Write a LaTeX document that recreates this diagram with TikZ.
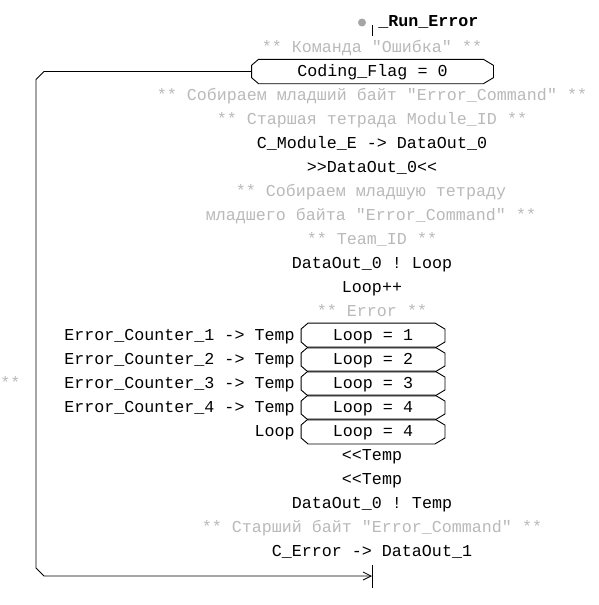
\documentclass[tikz,border=0pt]{standalone}
\usepackage{fontspec}
\setmonofont{Liberation Mono}
\usetikzlibrary{arrows.meta}
\definecolor{cmtgray}{RGB}{185,185,185}
\definecolor{dotgray}{RGB}{165,165,165}
\newcommand\octo[1]{%
  \draw ([xshift=7pt]#1.north west) -- ([xshift=-10pt]#1.north east)
    -- ([yshift=-6pt]#1.north east) -- ([yshift=6pt]#1.south east)
    -- ([xshift=-10pt]#1.south east) -- ([xshift=7pt]#1.south west)
    -- ([yshift=6pt]#1.south west) -- ([yshift=-6pt]#1.north west) -- cycle;}
\begin{document}
\begin{tikzpicture}[x=1pt,y=-1pt,line width=0.9pt,
  every node/.style={font=\ttfamily\fontsize{16.67}{20}\selectfont, inner sep=0pt,
    text height=9.5pt, text depth=0.5pt},
  cmd/.style={text=black},
  cmt/.style={text=cmtgray},
  loopbox/.style={minimum width=143pt, minimum height=24pt},
  flagbox/.style={minimum width=241pt, minimum height=23.5pt},
  lefttxt/.style={anchor=east},
  tip/.style={-{Straight Barb[length=8pt,width=8pt,line width=0.8pt]}}]
\useasboundingbox (0,0) rectangle (599,605);

% start marker
\node[circle, fill=dotgray, minimum size=8pt, text height=0pt, text depth=0pt] (dot) at (362,22.5) {};
\coordinate (t1) at (372.5,25);
\coordinate (t2) at (372.5,36);
\draw[line width=0.8pt] (t1) -- (t2);
\node[anchor=west, font=\ttfamily\bfseries\fontsize{16.67}{20}\selectfont] (run) at (378,22.5) {\_Run\_Error};

\node[cmt] (c0) at (372,47.5) {** Команда "Ошибка" **};
\node[flagbox] (flag) at (372.5,71.5) {Coding\_Flag = 0};
\octo{flag}

\node[cmt] (c1) at (372,95.5) {** Собираем младший байт "Error\_Command" **};
\node[cmt] (c2) at (372,119.5) {** Старшая тетрада Module\_ID **};
\node[cmd] (s1) at (372,143.5) {C\_Module\_E -> DataOut\_0};
\node[cmd] (s2) at (372,167.5) {>>DataOut\_0<<};
\node[cmt] (c3) at (371,191.5) {** Собираем младшую тетраду};
\node[cmt] (c4) at (371,215.5) {младшего байта "Error\_Command" **};
\node[cmt] (c5) at (372,239.5) {** Team\_ID **};
\node[cmd] (s3) at (372,263.5) {DataOut\_0 ! Loop};
\node[cmd] (s4) at (372,287.5) {Loop++};
\node[cmt] (c6) at (372,311.5) {** Error **};

\node[loopbox] (l1) at (373,335.5) {Loop = 1};
\node[loopbox] (l2) at (373,359.5) {Loop = 2};
\node[loopbox] (l3) at (373,383.5) {Loop = 3};
\node[loopbox] (l4) at (373,407.5) {Loop = 4};
\node[loopbox] (l5) at (373,431.5) {Loop = 4};
\octo{l1}\octo{l2}\octo{l3}\octo{l4}\octo{l5}

\node[lefttxt] (e1) at (295,335.5) {Error\_Counter\_1 -> Temp};
\node[lefttxt] (e2) at (295,359.5) {Error\_Counter\_2 -> Temp};
\node[lefttxt] (e3) at (295,383.5) {Error\_Counter\_3 -> Temp};
\node[lefttxt] (e4) at (295,407.5) {Error\_Counter\_4 -> Temp};
\node[lefttxt] (e5) at (295,431.5) {Loop};
\node[cmt, anchor=west] (cl) at (0,383.5) {**};

\node[cmd] (s5) at (372,455.5) {<<Temp};
\node[cmd] (s6) at (372,479.5) {<<Temp};
\node[cmd] (s7) at (372,503.5) {DataOut\_0 ! Temp};
\node[cmt] (c7) at (372,527.5) {** Старший байт "Error\_Command" **};
\node[cmd] (s8) at (372,551.5) {C\_Error -> DataOut\_1};

% loop-back connector
\coordinate (endp) at (372,576);
\coordinate (e_t1) at (372.5,565);
\coordinate (e_t2) at (372.5,588);
\draw[tip] (flag.west) -- (44,71.5) -- (36,79.5) -- (36,568) -- (44,576) -- (endp);
\draw[line width=0.8pt] (e_t1) -- (e_t2);
\end{tikzpicture}
\end{document}
